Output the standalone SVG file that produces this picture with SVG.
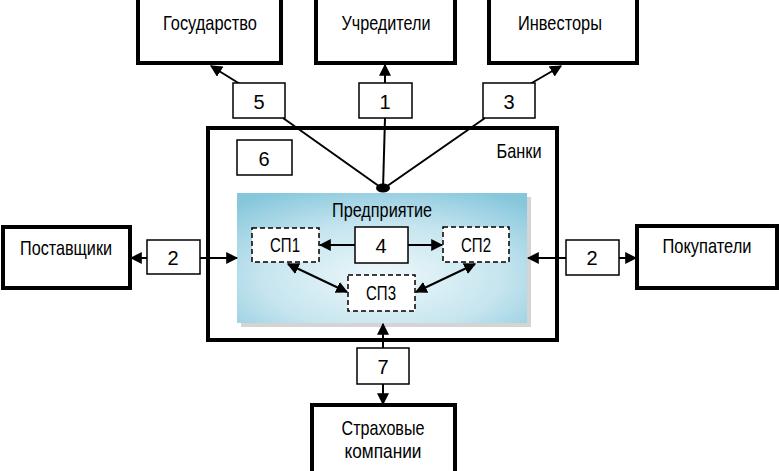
<svg xmlns="http://www.w3.org/2000/svg" width="779" height="471" viewBox="0 0 779 471">
<style>
.thick{fill:#fff;stroke:#000;stroke-width:4}
.thin{fill:#fff;stroke:#000;stroke-width:1.5}
.dash{fill:#fff;stroke:#000;stroke-width:1.5;stroke-dasharray:5 3}
text{font-family:"Liberation Sans Narrow","Liberation Sans",Arial,sans-serif;font-size:21px;fill:#000;text-anchor:middle}
.num{font-size:20px}
.ln{stroke:#000;stroke-width:2;fill:none}
</style>
<defs>
<marker id="ah" viewBox="0 0 10 10" refX="9" refY="5" markerWidth="6" markerHeight="6" orient="auto-start-reverse" markerUnits="strokeWidth">
<path d="M0,0 L10,5 L0,10 z" fill="#000"/>
</marker>
<radialGradient id="ent" cx="0.5" cy="0.65" r="0.75">
<stop offset="0" stop-color="#eef8fb"/>
<stop offset="0.55" stop-color="#c6e5ef"/>
<stop offset="1" stop-color="#86c7dc"/>
</radialGradient>
</defs>

<g id="banks">
<rect class="thick" x="208" y="128" width="349" height="212"/>
<text x="519" y="158" textLength="45" lengthAdjust="spacingAndGlyphs">Банки</text>
</g>
<g id="enterprise">
<rect x="241" y="197" width="290" height="130" fill="#b8b8b8" opacity="0.6"/>
<rect x="237" y="193" width="290" height="130" fill="url(#ent)"/>
<text x="382" y="217" textLength="100" lengthAdjust="spacingAndGlyphs">Предприятие</text>
</g>

<g id="gos"><rect class="thick" x="138" y="-4" width="143" height="67"/>
<text x="210" y="30" textLength="94" lengthAdjust="spacingAndGlyphs">Государство</text></g>
<g id="uchr"><rect class="thick" x="316" y="-4" width="139" height="67"/>
<text x="386" y="30" textLength="89" lengthAdjust="spacingAndGlyphs">Учредители</text></g>
<g id="inv"><rect class="thick" x="489" y="-4" width="148" height="67"/>
<text x="560" y="30" textLength="84" lengthAdjust="spacingAndGlyphs">Инвесторы</text></g>
<g id="post"><rect class="thick" x="3" y="227" width="127" height="61"/>
<text x="66" y="255" textLength="92" lengthAdjust="spacingAndGlyphs">Поставщики</text></g>
<g id="pokup"><rect class="thick" x="637" y="226" width="140" height="62"/>
<text x="707" y="253" textLength="89" lengthAdjust="spacingAndGlyphs">Покупатели</text></g>
<g id="strah"><rect class="thick" x="312" y="405" width="143" height="70"/>
<text x="383" y="435" textLength="83" lengthAdjust="spacingAndGlyphs">Страховые</text>
<text x="383" y="458" textLength="77" lengthAdjust="spacingAndGlyphs">компании</text></g>

<g id="connectors">
<line class="ln" x1="283" y1="118" x2="383" y2="189"/>
<line class="ln" x1="385" y1="118" x2="383" y2="189"/>
<line class="ln" x1="485" y1="118" x2="383" y2="189"/>
<ellipse cx="383" cy="188" rx="7" ry="4.5" fill="#000"/>
<line class="ln" x1="240" y1="84" x2="211" y2="66" marker-end="url(#ah)"/>
<line class="ln" x1="385" y1="83" x2="385" y2="65" marker-end="url(#ah)"/>
<line class="ln" x1="530" y1="84" x2="561" y2="66" marker-end="url(#ah)"/>
<line class="ln" x1="147" y1="258" x2="131" y2="258" marker-end="url(#ah)"/>
<line class="ln" x1="200" y1="258" x2="237" y2="258" marker-end="url(#ah)"/>
<line class="ln" x1="566" y1="258" x2="528" y2="258" marker-end="url(#ah)"/>
<line class="ln" x1="619" y1="258" x2="636" y2="258" marker-end="url(#ah)"/>
<line class="ln" x1="355" y1="245" x2="320" y2="245" marker-end="url(#ah)"/>
<line class="ln" x1="408" y1="245" x2="442" y2="245" marker-end="url(#ah)"/>
<line class="ln" x1="288" y1="264" x2="347" y2="292" marker-start="url(#ah)" marker-end="url(#ah)"/>
<line class="ln" x1="475" y1="264" x2="416" y2="292" marker-start="url(#ah)" marker-end="url(#ah)"/>
<line class="ln" x1="383" y1="348" x2="383" y2="324" marker-end="url(#ah)"/>
<line class="ln" x1="383" y1="384" x2="383" y2="404" marker-end="url(#ah)"/>
</g>

<g id="n5"><rect class="thin" x="233" y="83" width="52" height="35"/><text class="num" x="259" y="109">5</text></g>
<g id="n1"><rect class="thin" x="359" y="83" width="53" height="35"/><text class="num" x="385" y="109">1</text></g>
<g id="n3"><rect class="thin" x="483" y="83" width="52" height="35"/><text class="num" x="509" y="109">3</text></g>
<g id="n6"><rect class="thin" x="237" y="140" width="55" height="35"/><text class="num" x="264" y="166">6</text></g>
<g id="n2l"><rect class="thin" x="147" y="240" width="53" height="34"/><text class="num" x="173" y="265">2</text></g>
<g id="n2r"><rect class="thin" x="566" y="240" width="53" height="35"/><text class="num" x="592" y="265">2</text></g>
<g id="n4"><rect class="thin" x="355" y="227" width="53" height="36"/><text class="num" x="381" y="253">4</text></g>
<g id="n7"><rect class="thin" x="357" y="348" width="52" height="36"/><text class="num" x="383" y="374">7</text></g>
<g id="sp1"><rect class="dash" x="252" y="228" width="67" height="34"/><text x="285" y="252" textLength="30" lengthAdjust="spacingAndGlyphs">СП1</text></g>
<g id="sp2"><rect class="dash" x="443" y="227" width="66" height="35"/><text x="476" y="252" textLength="30" lengthAdjust="spacingAndGlyphs">СП2</text></g>
<g id="sp3"><rect class="dash" x="348" y="275" width="67" height="36"/><text x="381" y="300" textLength="30" lengthAdjust="spacingAndGlyphs">СП3</text></g>
</svg>
